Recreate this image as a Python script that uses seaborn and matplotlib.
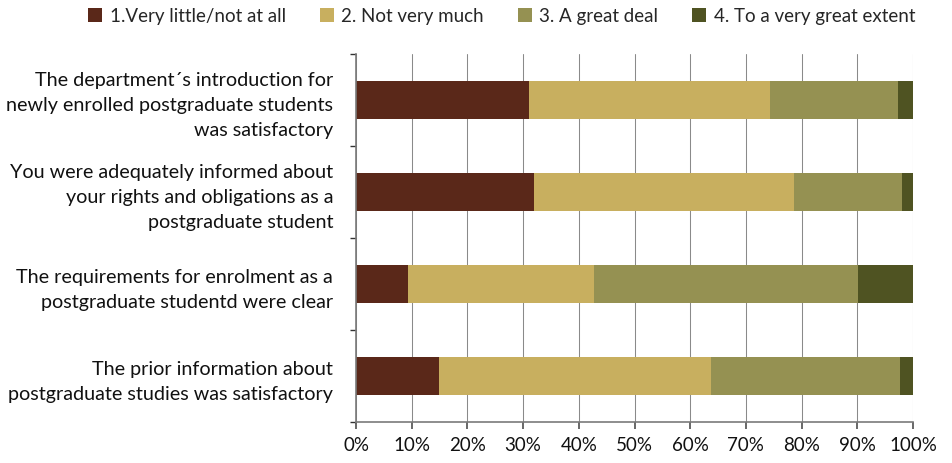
import matplotlib
matplotlib.use("Agg")
import matplotlib.pyplot as plt
import seaborn as sns
import pandas as pd
import numpy as np
from matplotlib.patches import Patch
from matplotlib.ticker import FixedLocator, PercentFormatter

categories = [
    "The department\u00b4s introduction for\nnewly enrolled postgraduate students\nwas satisfactory",
    "You were adequately informed about\nyour rights and obligations as a\npostgraduate student",
    "The requirements for enrolment as a\npostgraduate studentd were clear",
    "The prior information about\npostgraduate studies was satisfactory",
]
series_names = ["1.Very little/not at all", "2. Not very much", "3. A great deal", "4. To a very great extent"]
s1 = [31.0, 31.9, 9.3, 14.9]
s2 = [43.3, 46.8, 33.4, 48.9]
s3 = [23.1, 19.4, 47.5, 33.9]
s4 = [2.6, 1.9, 9.8, 2.3]
colors = ["#5A2819", "#C8AF5F", "#959152", "#4F5322"]

sns.set_theme(style="white")
plt.rcParams['font.family'] = ['Lato', 'DejaVu Sans']

series = [s1, s2, s3, s4]
fig = plt.figure(figsize=(9.52, 4.63), dpi=100)
ax = fig.add_axes([0.374, 0.0886, 0.585, 0.794])

cum = np.cumsum(np.array(series), axis=0)
for i in range(3, -1, -1):
    df = pd.DataFrame({"cat": categories, "val": cum[i]})
    sns.barplot(data=df, x="val", y="cat", orient="h", color=colors[i],
                width=0.41, saturation=1, ax=ax, edgecolor="none", linewidth=0)

ax.set_xlim(0, 100)
ax.set_ylim(3.5, -0.5)
ax.set_xlabel("")
ax.set_ylabel("")
ax.xaxis.set_major_locator(FixedLocator(np.arange(0, 101, 10)))
ax.xaxis.set_major_formatter(PercentFormatter(decimals=0))
ax.grid(axis="x", color="#8a8a8a", linewidth=0.75)
ax.set_axisbelow(True)
for sp in ["top", "right"]:
    ax.spines[sp].set_visible(False)
for sp in ["left", "bottom"]:
    ax.spines[sp].set_visible(True)
    ax.spines[sp].set_color("#7a7a7a")
    ax.spines[sp].set_linewidth(1.2)
ax.tick_params(axis="x", bottom=True, length=5, color="#555555", labelsize=13.5, pad=6, labelcolor="#111111")
ax.tick_params(axis="y", which="major", left=False, length=0, labelsize=14.2, pad=16.5, labelcolor="#111111")
ax.yaxis.set_minor_locator(FixedLocator([-0.5, 0.5, 1.5, 2.5, 3.5]))
ax.tick_params(axis="y", which="minor", left=True, length=4, color="#333333")
for lbl in ax.get_yticklabels():
    lbl.set_horizontalalignment("right")
    lbl.set_multialignment("right")
    lbl.set_linespacing(1.58)

handles = [Patch(facecolor=c, edgecolor="none") for c in colors]
fig.legend(handles, series_names, loc="upper center", bbox_to_anchor=(0.527, 1.02), ncol=4,
           frameon=False, fontsize=13.5, handlelength=0.75, handleheight=0.75,
           handletextpad=0.4, columnspacing=1.8)

fig.savefig("out.png", dpi=100)
